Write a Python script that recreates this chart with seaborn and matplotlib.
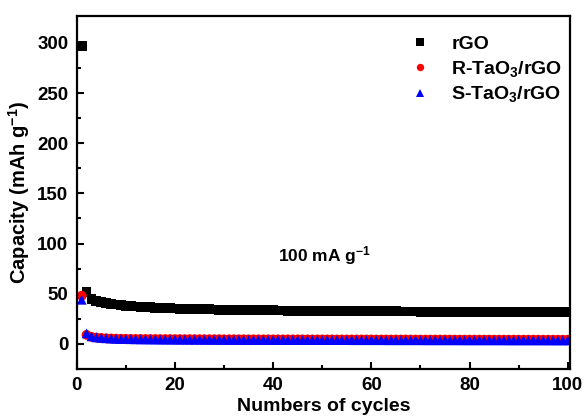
import numpy as np
import pandas as pd
import matplotlib.pyplot as plt
import seaborn as sns

# cycle numbers
cycles = list(range(1, 101))

# capacity values (mAh g-1)
rgo = [297, 52, 45, 43, 41.5, 40.5, 39.8, 39.2, 38.6, 38.1,
       37.7, 37.3, 37.0, 36.7, 36.4, 36.1, 35.9, 35.7, 35.5, 35.3,
       35.1, 35.0, 34.8, 34.7, 34.6, 34.5, 34.4, 34.3, 34.2, 34.1,
       34.0, 33.9, 33.8, 33.8, 33.7, 33.6, 33.6, 33.5, 33.4, 33.4,
       33.3, 33.3, 33.2, 33.2, 33.1, 33.1, 33.0, 33.0, 32.9, 32.9,
       32.8, 32.8, 32.8, 32.7, 32.7, 32.7, 32.6, 32.6, 32.6, 32.5,
       32.5, 32.5, 32.4, 32.4, 32.4, 32.3, 32.3, 32.3, 32.3, 32.2,
       32.2, 32.2, 32.2, 32.1, 32.1, 32.1, 32.1, 32.0, 32.0, 32.0,
       32.0, 31.9, 31.9, 31.9, 31.9, 31.8, 31.8, 31.8, 31.8, 31.8,
       31.7, 31.7, 31.7, 31.7, 31.7, 31.6, 31.6, 31.6, 31.6, 31.6]

r_tao3 = [48, 9.0, 7.0, 6.3, 5.9, 5.6, 5.4, 5.2, 5.1, 5.0,
          4.95, 4.9, 4.9, 4.85, 4.85, 4.8, 4.8, 4.8, 4.75, 4.75,
          4.75, 4.7, 4.7, 4.7, 4.7, 4.65, 4.65, 4.65, 4.65, 4.6,
          4.6, 4.6, 4.6, 4.6, 4.55, 4.55, 4.55, 4.55, 4.55, 4.5,
          4.5, 4.5, 4.5, 4.5, 4.5, 4.5, 4.45, 4.45, 4.45, 4.45,
          4.45, 4.45, 4.4, 4.4, 4.4, 4.4, 4.4, 4.4, 4.4, 4.4,
          4.35, 4.35, 4.35, 4.35, 4.35, 4.35, 4.35, 4.3, 4.3, 4.3,
          4.3, 4.3, 4.3, 4.3, 4.3, 4.3, 4.25, 4.25, 4.25, 4.25,
          4.25, 4.25, 4.25, 4.25, 4.2, 4.2, 4.2, 4.2, 4.2, 4.2,
          4.2, 4.2, 4.2, 4.2, 4.15, 4.15, 4.15, 4.15, 4.15, 4.15]

s_tao3 = [44, 10.5, 7.5, 6.5, 6.0, 5.6, 5.3, 5.1, 4.9, 4.8,
          4.7, 4.6, 4.55, 4.5, 4.45, 4.4, 4.35, 4.3, 4.3, 4.25,
          4.2, 4.2, 4.15, 4.15, 4.1, 4.1, 4.1, 4.05, 4.05, 4.0,
          4.0, 4.0, 4.0, 3.95, 3.95, 3.95, 3.95, 3.9, 3.9, 3.9,
          3.9, 3.9, 3.85, 3.85, 3.85, 3.85, 3.85, 3.85, 3.8, 3.8,
          3.8, 3.8, 3.8, 3.8, 3.8, 3.75, 3.75, 3.75, 3.75, 3.75,
          3.75, 3.75, 3.7, 3.7, 3.7, 3.7, 3.7, 3.7, 3.7, 3.7,
          3.65, 3.65, 3.65, 3.65, 3.65, 3.65, 3.65, 3.65, 3.6, 3.6,
          3.6, 3.6, 3.6, 3.6, 3.6, 3.6, 3.6, 3.55, 3.55, 3.55,
          3.55, 3.55, 3.55, 3.55, 3.55, 3.55, 3.5, 3.5, 3.5, 3.5]

labels = ['rGO', 'R-TaO$_3$/rGO', 'S-TaO$_3$/rGO']

df = pd.DataFrame({
    'Cycle': cycles * 3,
    'Capacity': rgo + r_tao3 + s_tao3,
    'Sample': [labels[0]] * 100 + [labels[1]] * 100 + [labels[2]] * 100,
})

sns.set_style('ticks')
plt.rcParams['font.family'] = ['Liberation Sans', 'DejaVu Sans']
plt.rcParams['font.weight'] = 'bold'
plt.rcParams['mathtext.default'] = 'regular'
plt.rcParams['text.color'] = 'black'
plt.rcParams['axes.labelcolor'] = 'black'
plt.rcParams['axes.edgecolor'] = 'black'
plt.rcParams['xtick.color'] = 'black'
plt.rcParams['ytick.color'] = 'black'

fig = plt.figure(figsize=(5.86, 4.16), dpi=100)
ax = fig.add_axes([0.131, 0.113, 0.842, 0.849])

sns.scatterplot(data=df, x='Cycle', y='Capacity', hue='Sample', style='Sample',
                palette={labels[0]: 'black', labels[1]: 'red', labels[2]: 'blue'},
                markers={labels[0]: 's', labels[1]: 'o', labels[2]: '^'},
                s=50, linewidth=0, ax=ax)

ax.set_xlim(0, 100.5)
ax.set_ylim(-25, 327)
ax.set_xticks([0, 20, 40, 60, 80, 100])
ax.set_yticks([0, 50, 100, 150, 200, 250, 300])
ax.set_xticks(np.arange(10, 100, 20), minor=True)
ax.set_yticks(np.arange(25, 325, 50), minor=True)
ax.tick_params(which='both', direction='in', width=1.5, labelsize=13.5)
ax.tick_params(which='major', length=5, pad=6)
ax.tick_params(which='minor', length=3)
for sp in ax.spines.values():
    sp.set_visible(True)
    sp.set_linewidth(1.6)
for lab in ax.get_xticklabels() + ax.get_yticklabels():
    lab.set_fontweight('bold')

ax.set_xlabel('Numbers of cycles', fontsize=14, fontweight='bold', labelpad=3)
ax.set_ylabel('Capacity (mAh g$^{-1}$)', fontsize=14.5, fontweight='bold', labelpad=4)

ax.text(50.5, 88, '100 mA g$^{-1}$', fontsize=12.5, fontweight='bold',
        ha='center', va='center')

leg = ax.legend(loc='upper right', bbox_to_anchor=(1.02, 0.995), frameon=False,
                fontsize=14, handletextpad=0.6, labelspacing=0.3, markerscale=0.75)
for t in leg.get_texts():
    t.set_fontweight('bold')

fig.savefig('out.png', dpi=100)
